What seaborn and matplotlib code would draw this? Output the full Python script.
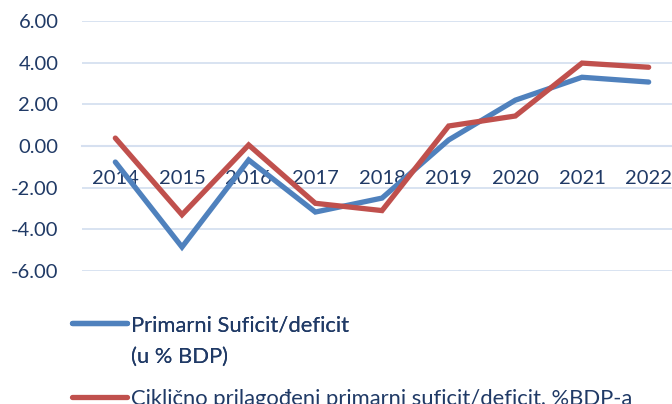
import matplotlib
matplotlib.use("Agg")
import matplotlib.pyplot as plt
import pandas as pd
import seaborn as sns
from matplotlib.lines import Line2D
from matplotlib.ticker import FixedLocator

# Data
years = ["2014", "2015", "2016", "2017", "2018", "2019", "2020", "2021", "2022"]
primarni = [-0.77, -4.85, -0.67, -3.17, -2.50, 0.29, 2.20, 3.30, 3.07]
ciklicno = [0.38, -3.30, 0.05, -2.75, -3.10, 0.96, 1.44, 3.98, 3.78]
label_primarni = "Primarni Suficit/deficit"
label_primarni_2 = "(u % BDP)"
label_ciklicno = "Ciklično prilagođeni primarni suficit/deficit, %BDP-a"
yticks = [-6, -4, -2, 0, 2, 4, 6]

BLUE = "#4F81BD"
RED = "#C0504D"
TEXT = "#203A66"
GRID = "#D6E0F0"

sns.set_style("white")
plt.rcParams["font.family"] = ["Lato", "DejaVu Sans"]

df = pd.DataFrame({
    "year": years * 2,
    "value": primarni + ciklicno,
    "series": [label_primarni] * len(years) + [label_ciklicno] * len(years),
})

fig = plt.figure(figsize=(6.72, 4.04), dpi=100)
ax = fig.add_axes([82 / 672, 1 - 271 / 404, 600 / 672, 250 / 404])

sns.lineplot(data=df, x="year", y="value", hue="series",
             palette=[BLUE, RED], linewidth=3.8, legend=False, ax=ax,
             solid_capstyle="round", solid_joinstyle="miter")

ax.set_xlim(-0.5, len(years) - 0.5)
ax.set_ylim(-6, 6)
ax.set_yticks(yticks)
ax.set_yticklabels([f"{v:.2f}" for v in yticks])
ax.yaxis.grid(True, color=GRID, linewidth=1.3)
ax.set_axisbelow(True)
ax.set_xlabel("")
ax.set_ylabel("")

for side in ["left", "top", "right"]:
    ax.spines[side].set_visible(False)
ax.spines["bottom"].set_position(("data", 0))
ax.spines["bottom"].set_color(GRID)
ax.spines["bottom"].set_linewidth(1.5)
ax.spines["bottom"].set_zorder(0.5)

ax.tick_params(axis="y", length=0, pad=17, labelsize=14.5, labelcolor=TEXT)
ax.tick_params(axis="x", which="major", length=0, pad=17.5, labelsize=14.5,
               labelcolor=TEXT)
ax.xaxis.set_minor_locator(FixedLocator([i - 0.5 for i in range(len(years) + 1)]))
ax.tick_params(axis="x", which="minor", length=5, width=1.5, color=GRID,
               direction="out")

# Legend below the plot, two separate boxes to mimic the spacing
h_blue = Line2D([], [], color=BLUE, linewidth=3.8, solid_capstyle="round")
h_red = Line2D([], [], color=RED, linewidth=3.8, solid_capstyle="round")
h_none = Line2D([], [], color="none")
leg_kw = dict(frameon=False, fontsize=15.8, labelcolor=TEXT, handlelength=2.5,
              handletextpad=0.18, borderpad=0, borderaxespad=0,
              loc="upper left")
leg1 = fig.legend([h_blue, h_none], [label_primarni, label_primarni_2],
                  bbox_to_anchor=(72 / 672, 1 - 315 / 404),
                  labelspacing=0.55, **leg_kw)
fig.add_artist(leg1)
fig.legend([h_red], [label_ciklicno],
           bbox_to_anchor=(72 / 672, 1 - 389 / 404), **leg_kw)

fig.savefig("out.png", dpi=100)
